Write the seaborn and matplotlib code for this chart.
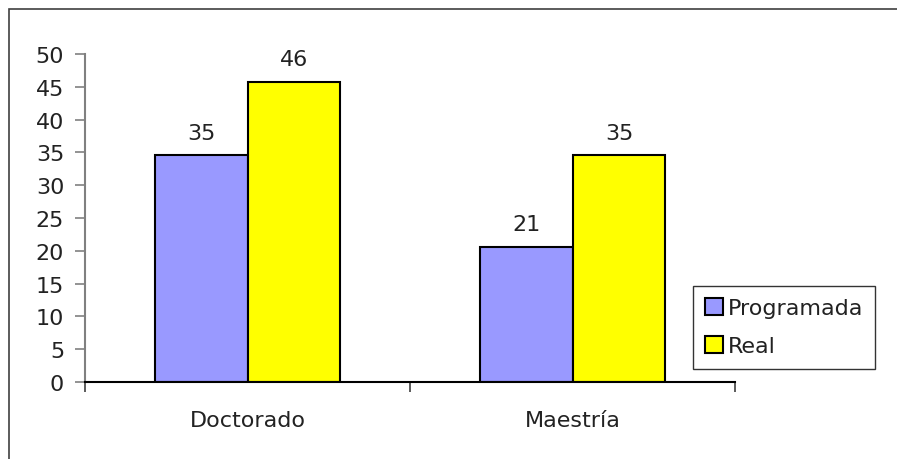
import matplotlib
matplotlib.use("Agg")
import matplotlib.pyplot as plt
import seaborn as sns
import pandas as pd
from matplotlib.patches import Rectangle
from matplotlib.ticker import FixedLocator

categories = ["Doctorado", "Maestría"]
series_names = ["Programada", "Real"]
programada = [34.6, 20.6]
real = [45.8, 34.6]
yticks = [0, 5, 10, 15, 20, 25, 30, 35, 40, 45, 50]

df = pd.DataFrame({
    "cat": categories * 2,
    "serie": [series_names[0]] * 2 + [series_names[1]] * 2,
    "val": programada + real,
})

sns.set_theme(style="white")
plt.rcParams['font.family'] = ['DejaVu Sans']

FS = 16
fig = plt.figure(figsize=(8.97, 4.60), dpi=100)
ax = fig.add_axes([85/897, 1-383/460, 650/897, 328/460])

sns.barplot(data=df, x="cat", y="val", hue="serie", ax=ax,
            palette=["#9999FF", "#FFFF00"], width=0.572, gap=0,
            edgecolor="black", linewidth=1.5, saturation=1, errorbar=None)

for c in ax.containers:
    ax.bar_label(c, fmt="%.0f", padding=9, fontsize=FS, color="#222222")

ax.set_ylim(0, 50)
ax.set_xlim(-0.5, 1.5)
ax.set_yticks(yticks)
ax.set_xlabel("")
ax.set_ylabel("")
for s in ["top", "right"]:
    ax.spines[s].set_visible(False)
ax.spines["left"].set_color("#808080")
ax.spines["left"].set_linewidth(1.5)
ax.spines["bottom"].set_color("black")
ax.spines["bottom"].set_linewidth(1.5)

ax.tick_params(axis="y", which="major", direction="out", length=7, width=1.2,
               color="#808080", labelsize=FS, pad=8, left=True, labelcolor="#222222")
ax.tick_params(axis="x", which="major", length=0, labelsize=FS, pad=20, labelcolor="#222222")
ax.xaxis.set_minor_locator(FixedLocator([-0.5, 0.5, 1.5]))
ax.tick_params(axis="x", which="minor", direction="out", length=7, width=1.2,
               color="#404040", bottom=True)

leg = ax.legend(loc="upper left", bbox_to_anchor=(693/897, 1-287/460),
                bbox_transform=fig.transFigure, frameon=True, fancybox=False,
                fontsize=FS, handlelength=0.8, handleheight=0.8, handletextpad=0.2,
                borderpad=0.55, labelspacing=0.8, borderaxespad=0)
leg.get_frame().set_edgecolor("black")
leg.get_frame().set_linewidth(1.0)
for t in leg.get_texts():
    t.set_color("#222222")

fig.patches.append(Rectangle((9/897, -0.1), 1.2, 1.1 - 10/460, transform=fig.transFigure,
                             fill=False, edgecolor="#404040", linewidth=1.2, zorder=0))

fig.savefig("out.png", dpi=100)
